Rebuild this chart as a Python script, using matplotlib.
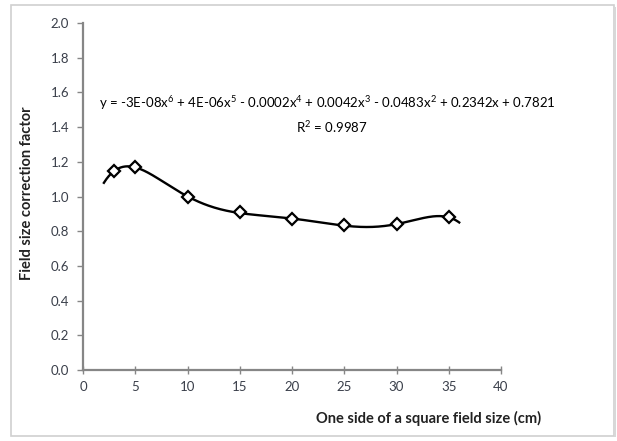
"""
Field size correction factor vs. side of square field, with 6th order trendline.
"""

import matplotlib

matplotlib.use("Agg")
import matplotlib.pyplot as plt
import numpy as np
from matplotlib.patches import Rectangle

# Measured points
field_size = [3, 5, 10, 15, 20, 25, 30, 35]
correction = [1.147, 1.17, 0.997, 0.91, 0.868, 0.835, 0.84, 0.88]

x_ticks = [0, 5, 10, 15, 20, 25, 30, 35, 40]
y_ticks = [0.0, 0.2, 0.4, 0.6, 0.8, 1.0, 1.2, 1.4, 1.6, 1.8, 2.0]
trend_range = [2, 36]

equation = (
    "y = -3E-08x$^6$ + 4E-06x$^5$ - 0.0002x$^4$ + 0.0042x$^3$ "
    "- 0.0483x$^2$ + 0.2342x + 0.7821"
)
r_squared = "R$^2$ = 0.9987"

FONT = "Lato"
GREY_TXT = "#3a3f4a"
GREY_AX = "#868686"

plt.rcParams["font.family"] = [FONT, "DejaVu Sans"]
plt.rcParams["mathtext.fontset"] = "custom"
plt.rcParams["mathtext.rm"] = FONT

fig = plt.figure(figsize=(6.17, 4.41), dpi=100)
ax = fig.add_axes([83 / 617, 1 - 370 / 441, 418 / 617, 347 / 441])

# Outer frame of the chart area
fig.patches.append(
    Rectangle((11 / 617, 1 - 436 / 441), 603 / 617, 431 / 441,
              transform=fig.transFigure, fill=False,
              edgecolor="#d0d0d0", linewidth=1.2)
)
fig.patches.append(
    Rectangle((614 / 617, 1 - 437 / 441), 2 / 617, 430 / 441,
              transform=fig.transFigure, facecolor="#d8d8d8",
              edgecolor="none")
)

# Polynomial trendline (order 6) fitted to the points
coef = np.polyfit(field_size, correction, 6)
xs = np.linspace(trend_range[0], trend_range[1], 300)
ax.plot(xs, np.polyval(coef, xs), color="black", linewidth=1.7, zorder=2)

ax.plot(field_size, correction, linestyle="none", marker="D", markersize=6.5,
        markerfacecolor="white", markeredgecolor="black",
        markeredgewidth=1.6, zorder=3)

ax.text(23.4, 1.54, equation, ha="center", va="center", fontsize=9.5,
        color="black")
ax.text(23.8, 1.40, r_squared, ha="center", va="center", fontsize=9.5,
        color="black")

ax.set_xlim(0, 40)
ax.set_ylim(0, 2.0)
ax.set_xticks(x_ticks)
ax.set_yticks(y_ticks)
ax.set_yticklabels([f"{v:.1f}" for v in y_ticks])

for side in ["top", "right"]:
    ax.spines[side].set_visible(False)
for side in ["left", "bottom"]:
    ax.spines[side].set_color(GREY_AX)
    ax.spines[side].set_linewidth(1.6)

ax.tick_params(axis="both", colors=GREY_AX, labelcolor=GREY_TXT,
               labelsize=9.5, length=4, width=1)
ax.tick_params(axis="x", direction="inout", length=6, pad=5)
ax.tick_params(axis="y", direction="out", pad=6)

fig.text(429 / 617, 1 - 418 / 441, "One side of a square field size (cm)",
         ha="center", va="center", fontsize=10.5, fontweight="bold",
         color="#222222")
fig.text(27 / 617, 1 - 193 / 441, "Field size correction factor",
         ha="center", va="center", rotation=90, fontsize=10.5,
         fontweight="bold", color="#222222")

fig.savefig("out.png", dpi=100)
